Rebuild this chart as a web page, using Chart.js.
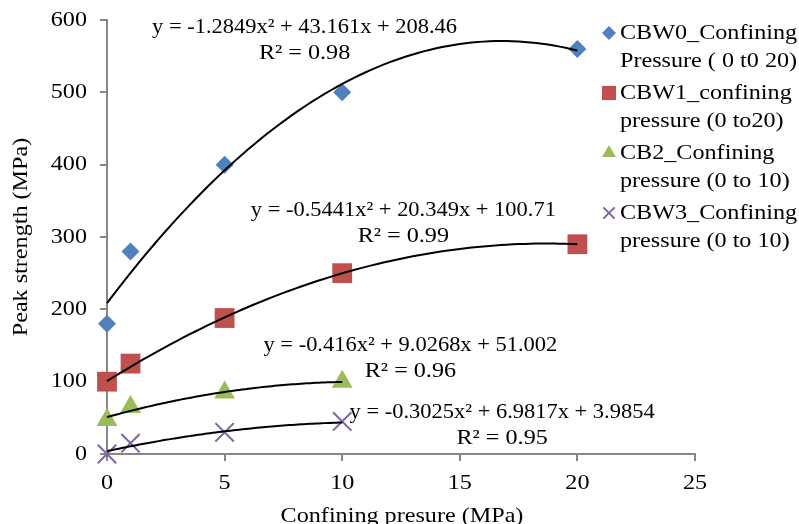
<!DOCTYPE html>
<html>
<head>
<meta charset="utf-8">
<script src="https://cdn.jsdelivr.net/npm/chart.js@4"></script>
<style>
  html, body { margin: 0; padding: 0; background: #fff; }
  #box { width: 799px; height: 524px; }
</style>
</head>
<body>
<div id="box"><canvas id="chart"></canvas></div>
<script>
// Peak strength vs confining pressure
const cbw0X = [0, 1, 5, 10, 20];
const cbw0Y = [180, 280, 400, 500, 560];
const cbw1X = [0, 1, 5, 10, 20];
const cbw1Y = [100, 125, 188, 250, 290];
const cb2X = [0, 1, 5, 10];
const cb2Y = [47, 65, 85, 100];
const cbw3X = [0, 1, 5, 10];
const cbw3Y = [0, 15, 30, 45];

// polynomial trendline coefficients [a, b, c] for y = a*x^2 + b*x + c
const cbw0Fit = [-1.2849, 43.161, 208.46];
const cbw1Fit = [-0.5441, 20.349, 100.71];
const cb2Fit = [-0.416, 9.0268, 51.002];
const cbw3Fit = [-0.3025, 6.9817, 3.9854];

const seriesNames = [
    ['CBW0_Confining', 'Pressure ( 0 t0 20)'],
    ['CBW1_confining', 'pressure (0 to20)'],
    ['CB2_Confining', 'pressure (0 to 10)'],
    ['CBW3_Confining', 'pressure (0 to 10)']
];
const eqTexts = [
    ['y = -1.2849x² + 43.161x + 208.46', 'R² = 0.98'],
    ['y = -0.5441x² + 20.349x + 100.71', 'R² = 0.99'],
    ['y = -0.416x² + 9.0268x + 51.002', 'R² = 0.96'],
    ['y = -0.3025x² + 6.9817x + 3.9854', 'R² = 0.95']
];
const xTicks = [0, 5, 10, 15, 20, 25];
const yTicks = [0, 100, 200, 300, 400, 500, 600];

const FONT = '"Liberation Serif", "Times New Roman", serif';
const colors = ['#4F81BD', '#C0504D', '#9BBB59', '#8064A2'];
const shapes = ['rectRot', 'rect', 'triangle', 'crossRot'];
const radii = [9, 14, 12, 13];

// where the equation labels sit, in data units (centre of the first line)
const eqPos = [[8.4, 590], [12.6, 336], [12.9, 150], [16.8, 58]];

function pairs(xs, ys) {
    return xs.map((x, i) => ({ x: x, y: ys[i] }));
}

// sample the fitted curve across the data range
function curve(fit, xs) {
    const [a, b, c] = fit;
    const xMax = Math.max(...xs);
    const pts = [];
    for (let i = 0; i <= 80; i++) {
        const x = xMax * i / 80;
        pts.push({ x: x, y: a * x * x + b * x + c });
    }
    return pts;
}

const groups = [
    [cbw0X, cbw0Y, cbw0Fit],
    [cbw1X, cbw1Y, cbw1Fit],
    [cb2X, cb2Y, cb2Fit],
    [cbw3X, cbw3Y, cbw3Fit]
];

const datasets = [];
groups.forEach((g, i) => {
    datasets.push({
        label: seriesNames[i].join(' '),
        data: pairs(g[0], g[1]),
        showLine: false,
        clip: false,
        pointStyle: shapes[i],
        pointRadius: radii[i],
        pointHoverRadius: radii[i],
        backgroundColor: colors[i],
        borderColor: colors[i],
        borderWidth: shapes[i] === 'crossRot' ? 2 : 0,
        order: 2
    });
});
groups.forEach((g, i) => {
    datasets.push({
        label: 'trend' + i,
        data: curve(g[2], g[0]),
        showLine: true,
        clip: false,
        pointRadius: 0,
        borderColor: '#000',
        borderWidth: 2,
        tension: 0,
        order: 1
    });
});

// text is set a little wide, like the serif face of the original plot
function wideText(ctx, text, x, y, align, stretch) {
    ctx.save();
    ctx.translate(x, y);
    ctx.scale(stretch, 1);
    ctx.textAlign = align;
    ctx.fillText(text, 0, 0);
    ctx.restore();
}

// tick labels, legend, equation labels and axis titles
const extras = {
    id: 'extras',
    afterDraw(chart) {
        const ctx = chart.ctx;
        const xs = chart.scales.x, ys = chart.scales.y;
        ctx.save();
        ctx.fillStyle = '#000';
        ctx.textBaseline = 'middle';
        ctx.font = '21px ' + FONT;

        xTicks.forEach(v => wideText(ctx, String(v), xs.getPixelForValue(v), 483, 'center', 1.15));
        yTicks.forEach(v => wideText(ctx, String(v), 87, ys.getPixelForValue(v), 'right', 1.15));

        eqTexts.forEach((t, i) => {
            const px = xs.getPixelForValue(eqPos[i][0]);
            const py = ys.getPixelForValue(eqPos[i][1]);
            wideText(ctx, t[0], px, py, 'center', 1.07);
            wideText(ctx, t[1], px, py + 26, 'center', 1.15);
        });

        // legend
        seriesNames.forEach((lines, i) => {
            const y0 = 33 + i * 60;
            ctx.save();
            ctx.fillStyle = colors[i];
            ctx.strokeStyle = colors[i];
            ctx.lineWidth = 2;
            Chart.helpers.drawPoint(ctx, {
                pointStyle: shapes[i],
                radius: shapes[i] === 'rectRot' ? 7 : (shapes[i] === 'rect' ? 10 : 8),
                rotation: 0,
                borderWidth: shapes[i] === 'crossRot' ? 2 : 0
            }, 609, y0);
            ctx.restore();
            wideText(ctx, lines[0], 620, y0, 'left', 1.15);
            wideText(ctx, lines[1], 620, y0 + 28, 'left', 1.15);
        });

        // axis titles
        wideText(ctx, 'Confining presure (MPa)', 402, 516, 'center', 1.15);
        ctx.translate(21, 237);
        ctx.rotate(-Math.PI / 2);
        wideText(ctx, 'Peak strength (MPa)', 0, 0, 'center', 1.15);
        ctx.restore();
    }
};

const axisColour = '#868686';
new Chart(document.getElementById('chart'), {
    type: 'scatter',
    data: { datasets: datasets },
    options: {
        responsive: true,
        maintainAspectRatio: false,
        animation: false,
        layout: { padding: { top: 20, right: 104, left: 0, bottom: 0 } },
        plugins: { legend: { display: false }, tooltip: { enabled: false } },
        scales: {
            x: {
                type: 'linear',
                min: 0, max: 25,
                afterBuildTicks(scale) { scale.ticks = xTicks.map(v => ({ value: v })); },
                afterFit(scale) { scale.height = 70; },
                border: { color: axisColour, width: 2 },
                grid: { drawOnChartArea: false, drawTicks: true, tickLength: 7, color: axisColour, lineWidth: 2 },
                ticks: { display: false }
            },
            y: {
                type: 'linear',
                min: 0, max: 600,
                afterBuildTicks(scale) { scale.ticks = yTicks.map(v => ({ value: v })); },
                afterFit(scale) { scale.width = 107; },
                border: { color: axisColour, width: 2 },
                grid: { drawOnChartArea: false, drawTicks: true, tickLength: 7, color: axisColour, lineWidth: 2 },
                ticks: { display: false }
            }
        }
    },
    plugins: [extras]
});
</script>
</body>
</html>
